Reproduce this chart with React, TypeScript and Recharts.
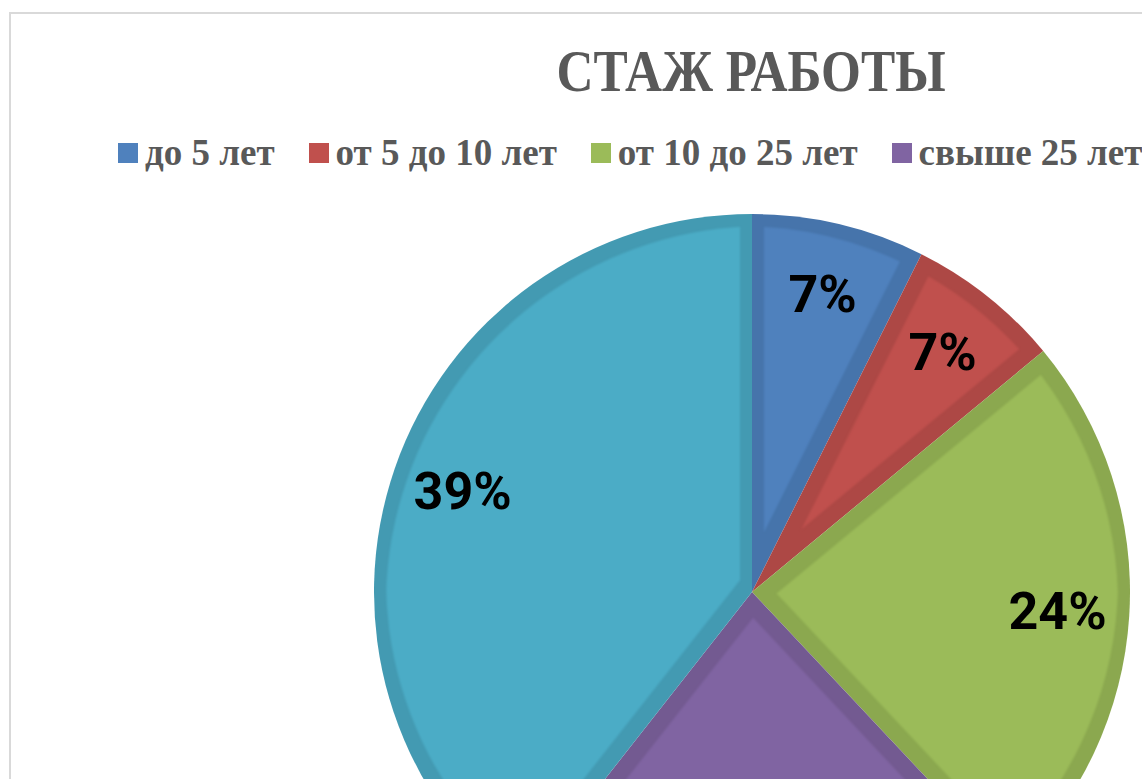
import React from 'react';
import { PieChart, Pie, Cell } from 'recharts';

// stazh categories and their shares (%)
const CATEGORIES = ['до 5 лет', 'от 5 до 10 лет', 'от 10 до 25 лет', 'свыше 25 лет', 'без стажа'];
const SHARES = [7.4, 6.6, 24.0, 22.6, 39.4];

const FILLS = ['#4f81bd', '#c0504d', '#9bbb59', '#8064a2', '#4bacc6'];
const EDGES = ['#4674ab', '#ad4845', '#8ba84f', '#735a91', '#439ab2'];

const data = CATEGORIES.map((name, i) => ({ name, value: SHARES[i] }));

const RAD = Math.PI / 180;

const renderLabel = ({ cx, cy, midAngle, outerRadius, percent }: any) => {
    const r = outerRadius * 0.81;
    const x = cx + r * Math.cos(-midAngle * RAD);
    const y = cy + r * Math.sin(-midAngle * RAD);
    return (
        <text
            x={x}
            y={y}
            textAnchor="middle"
            dominantBaseline="central"
            fill="#000"
            style={{ fontFamily: 'Roboto', fontWeight: 700, fontSize: 52 }}
        >
            {`${Math.round(percent * 100)}%`}
        </text>
    );
};

export default function App() {
    return (
        <div
            style={{
                position: 'fixed',
                left: 0,
                top: 0,
                width: 1142,
                height: 779,
                overflow: 'hidden',
                background: '#fff',
            }}
        >
            {/* chart frame */}
            <div
                style={{
                    position: 'absolute',
                    left: 9,
                    top: 12,
                    width: 1600,
                    height: 1200,
                    border: '2px solid #d9d9d9',
                    boxSizing: 'border-box',
                }}
            />
            <div
                style={{
                    position: 'absolute',
                    left: 0,
                    top: 36,
                    width: 1502,
                    textAlign: 'center',
                    fontFamily: '"Liberation Serif", serif',
                    fontWeight: 700,
                    fontSize: 60,
                    lineHeight: '70px',
                    color: '#595959',
                    transform: 'scaleX(0.855)',
                    transformOrigin: '751px 0',
                }}
            >
                СТАЖ РАБОТЫ
            </div>
            <div
                style={{
                    position: 'absolute',
                    left: 118,
                    top: 128,
                    display: 'flex',
                    whiteSpace: 'nowrap',
                    fontFamily: '"Liberation Serif", serif',
                    fontWeight: 700,
                    fontSize: 37,
                    lineHeight: '50px',
                    color: '#595959',
                }}
            >
                {CATEGORIES.map((c, i) => (
                    <div key={c} style={{ display: 'flex', alignItems: 'center', marginRight: 34 }}>
                        <span
                            style={{ width: 20, height: 20, background: FILLS[i], marginRight: 7, display: 'inline-block' }}
                        />
                        <span>{c}</span>
                    </div>
                ))}
            </div>
            <div style={{ position: 'absolute', left: 0, top: 0 }}>
                <PieChart width={1500} height={1000} margin={{ top: 0, right: 0, bottom: 0, left: 0 }}>
                    <defs>
                        {/* darker inset border inside each slice */}
                        {FILLS.map((f, i) => (
                            <filter
                                key={f}
                                id={`inset-${i}`}
                                x="-5%"
                                y="-5%"
                                width="110%"
                                height="110%"
                                colorInterpolationFilters="sRGB"
                            >
                                <feMorphology in="SourceAlpha" operator="erode" radius="12" result="inner" />
                                <feGaussianBlur in="inner" stdDeviation="1.2" result="innerSoft" />
                                <feFlood floodColor={EDGES[i]} result="edgeColor" />
                                <feComposite in="edgeColor" in2="SourceAlpha" operator="in" result="edgeShape" />
                                <feFlood floodColor={f} result="fillColor" />
                                <feComposite in="fillColor" in2="innerSoft" operator="in" result="innerShape" />
                                <feMerge>
                                    <feMergeNode in="edgeShape" />
                                    <feMergeNode in="innerShape" />
                                </feMerge>
                            </filter>
                        ))}
                    </defs>
                    <Pie
                        data={data}
                        dataKey="value"
                        nameKey="name"
                        cx={752}
                        cy={592}
                        outerRadius={378}
                        startAngle={90}
                        endAngle={-270}
                        stroke="none"
                        label={renderLabel}
                        labelLine={false}
                        isAnimationActive={false}
                    >
                        {data.map((d, i) => (
                            <Cell key={d.name} fill={FILLS[i]} filter={`url(#inset-${i})`} />
                        ))}
                    </Pie>
                </PieChart>
            </div>
        </div>
    );
}
